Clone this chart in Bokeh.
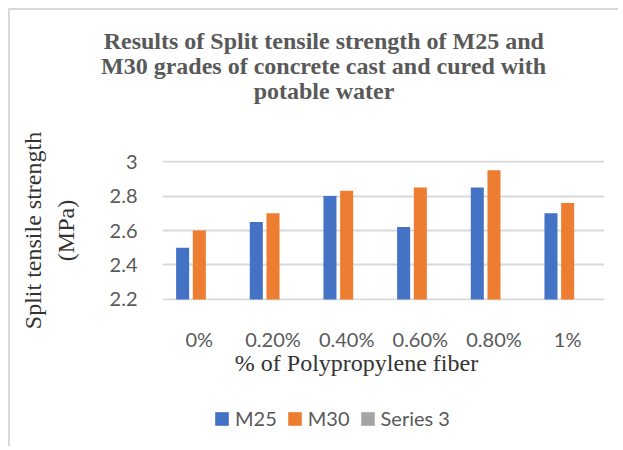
from bokeh.plotting import figure
from bokeh.layouts import column
from bokeh.models import (ColumnDataSource, FactorRange, Range1d, FixedTicker,
                          Title, Legend, LegendItem)
from bokeh.transform import dodge
from bokeh.embed import file_html
from bokeh.resources import INLINE

nan = float("nan")

# ---- data ----
categories = ["0%", "0.20%", "0.40%", "0.60%", "0.80%", "1%"]
m25 = [2.50, 2.65, 2.80, 2.62, 2.85, 2.70]
m30 = [2.60, 2.70, 2.83, 2.85, 2.95, 2.76]
series3 = [nan, nan, nan, nan, nan, nan]  # empty series, legend only
y_ticks = [2.2, 2.4, 2.6, 2.8, 3.0]
y_tick_labels = ["2.2", "2.4", "2.6", "2.8", "3"]
y_min, y_max = 2.2, 3.0

title_lines = ["Results of Split tensile strength of M25 and",
               "M30 grades of concrete cast and cured with",
               "potable water"]
x_title = "% of Polypropylene fiber"
y_title = "Split tensile strength\n(MPa)"
series_names = ["M25", "M30", "Series 3"]

BLUE, ORANGE, GRAY = "#4472C4", "#ED7D31", "#A5A5A5"
TXT, DARK = "#595959", "#333333"
SERIF = "Liberation Serif"
SANS = "Lato"

# Times metrics (Liberation Serif is metric compatible) for centring text
TB = {' ': 250, 'a': 500, 'b': 556, 'c': 444, 'd': 556, 'e': 444, 'f': 333, 'g': 500,
      'h': 556, 'i': 278, 'l': 278, 'n': 556, 'o': 500, 'p': 556, 'r': 444, 's': 389,
      't': 333, 'u': 556, 'w': 722, 'M': 944, 'R': 722, 'S': 556, '0': 500, '2': 500,
      '3': 500, '5': 500}
TR = {' ': 250, '%': 833, 'o': 500, 'f': 333, 'P': 556, 'l': 278, 'y': 500, 'p': 500,
      'r': 333, 'e': 444, 'n': 500, 'i': 278, 'b': 500, 'S': 556, 't': 278, 's': 389,
      'g': 500, 'h': 500, '(': 333, ')': 333, 'M': 889, 'a': 444}


def tw(s, table, size):
    return sum(table.get(c, 500) for c in s) / 1000.0 * size


# frame placement (page px, layout at the page origin)
FL, FR, FT, FB = 162, 604, 160, 300
W = 618
H1 = 390          # main figure height
H2 = 56           # legend strip height

pad = 0.0058
p = figure(frame_width=FR - FL, frame_height=FB - FT, title_location=None,
           x_range=FactorRange(factors=categories, range_padding=0),
           y_range=Range1d(y_min - pad, y_max + pad),
           output_backend="svg", toolbar_location=None,
           min_border_left=FL, min_border_right=W - FR,
           min_border_top=FT, min_border_bottom=H1 - FB)
p.outline_line_color = None
p.background_fill_color = "white"
p.border_fill_color = None
p.styles = {
    "background-color": "white",
    "background-image": "linear-gradient(#d9d9d9, #d9d9d9), linear-gradient(#d9d9d9, #d9d9d9)",
    "background-size": "2px 100%, 100% 2px",
    "background-position": "8px 8px, 8px 8px",
    "background-repeat": "no-repeat",
}

src = ColumnDataSource(dict(cat=categories, m25=m25, m30=m30, s3=series3))

slot, bw = 0.2267, 0.177
specs = [("m25", -slot, BLUE), ("m30", 0.0, ORANGE), ("s3", slot, GRAY)]
for col, dx, colr in specs:
    p.vbar(x=dodge("cat", dx, range=p.x_range), top=col, bottom=y_min, width=bw,
           source=src, fill_color=colr, line_color=None)

# grid / axes
p.xgrid.grid_line_color = None
p.ygrid.grid_line_color = "#d9d9d9"
p.ygrid.grid_line_width = 2
p.yaxis.ticker = FixedTicker(ticks=y_ticks)
p.yaxis.major_label_overrides = dict(zip(y_ticks, y_tick_labels))
for ax in (p.xaxis[0], p.yaxis[0]):
    ax.axis_line_color = None
    ax.major_tick_line_color = None
    ax.minor_tick_line_color = None
    ax.major_tick_out = 0
    ax.major_tick_in = 0
    ax.major_label_text_font = SANS
    ax.major_label_text_font_size = "20px"
    ax.major_label_text_color = TXT
p.xaxis.major_label_standoff = 26
p.yaxis.major_label_standoff = 25

# y axis title (two lines, rotated)
p.yaxis.axis_label = y_title
p.yaxis.axis_label_standoff = 28
p.yaxis.axis_label_text_font = SERIF
p.yaxis.axis_label_text_font_style = "normal"
p.yaxis.axis_label_text_font_size = "24px"
p.yaxis.axis_label_text_color = DARK
p.yaxis.axis_label_text_line_height = 1.25

# ---- chart title (three lines above the frame) ----
TS = 24
p.add_layout(Title(text=" ", text_font_size="1px", standoff=55), "above")  # spacer
for txt in reversed(title_lines):
    off = (323.5 - tw(txt, TB, TS) / 2) - FL
    p.add_layout(Title(text=txt, align="left", offset=off, vertical_align="bottom",
                       standoff=-3, text_font=SERIF, text_font_style="bold",
                       text_font_size=f"{TS}px", text_color=TXT), "above")

# ---- x axis title ----
AS = 24
p.add_layout(Title(text=x_title, align="left", offset=(356 - tw(x_title, TR, AS) / 2) - FL,
                   vertical_align="top", standoff=-8, text_font=SERIF,
                   text_font_style="normal", text_font_size=f"{AS}px",
                   text_color=DARK), "below")

# ---- legend strip below the chart (frame aligned with the chart frame) ----
p2 = figure(width=W, height=H2, title_location=None, x_range=p.x_range,
            y_range=Range1d(0, 1), x_axis_location=None, y_axis_location=None,
            output_backend="svg", toolbar_location=None, min_border=0)
p2.grid.visible = False
p2.outline_line_color = None
p2.background_fill_color = None
p2.border_fill_color = None
p2.styles = {
    "background-color": "white",
    "background-image": "linear-gradient(#d9d9d9, #d9d9d9)",
    "background-size": "2px 100%",
    "background-position": "8px 0px",
    "background-repeat": "no-repeat",
}
# legend swatches: renderers with no visible marks
key_src = ColumnDataSource(dict(cat=categories, m25=series3, m30=series3, s3=series3))
items = []
for (col, dx, colr), name in zip(specs, series_names):
    r = p2.vbar(x=dodge("cat", dx, range=p2.x_range), top=col, bottom=col, width=bw,
                source=key_src, fill_color=colr, line_color=None)
    items.append(LegendItem(label=name, renderers=[r]))

lg = Legend(items=items, orientation="horizontal", location=(51, 16),
            padding=0, margin=0, spacing=9, label_standoff=5,
            glyph_width=17, glyph_height=17,
            label_text_font=SANS, label_text_font_size="20px", label_text_color=TXT,
            border_line_color=None, background_fill_alpha=0)
p2.add_layout(lg)

layout = column(p, p2, spacing=0)
open("out.html", "w").write(file_html(layout, INLINE))
